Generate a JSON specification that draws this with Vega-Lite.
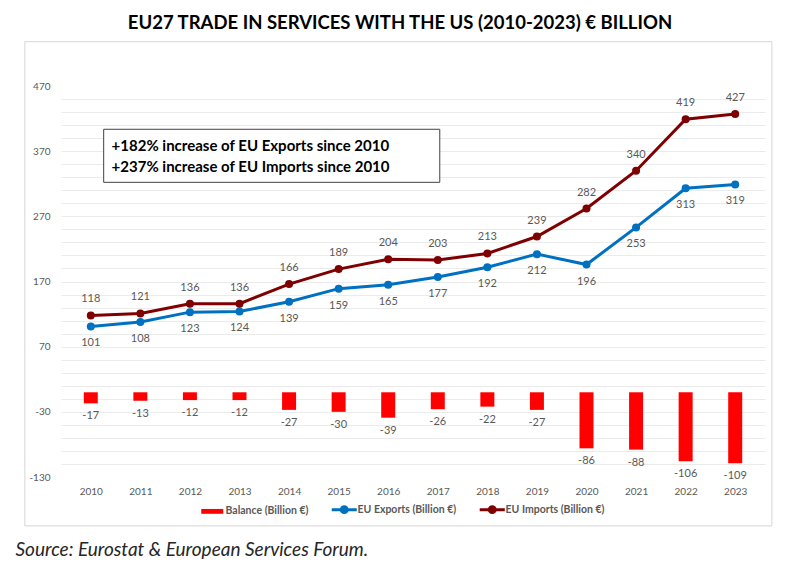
{
  "$schema": "https://vega.github.io/schema/vega-lite/v6.json",
  "width": 704,
  "height": 391,
  "autosize": "none",
  "padding": {"left": 61, "top": 86, "right": 23, "bottom": 91},
  "background": "white",
  "config": {
    "view": {"stroke": null},
    "font": "Lato",
    "text": {"font": "Lato"}
  },
  "title": {
    "text": "EU27 TRADE IN SERVICES WITH THE US (2010-2023) € BILLION",
    "font": "Lato",
    "fontSize": 18.5,
    "fontWeight": "bold",
    "color": "#000000",
    "anchor": "middle",
    "frame": "group",
    "dx": -13,
    "offset": 9
  },
  "resolve": {"axis": {"x": "independent", "y": "independent"}},
  "datasets": {
    "trade": [
      {"year": 2010, "series": "Balance (Billion €)", "value": -17},
      {"year": 2011, "series": "Balance (Billion €)", "value": -13},
      {"year": 2012, "series": "Balance (Billion €)", "value": -12},
      {"year": 2013, "series": "Balance (Billion €)", "value": -12},
      {"year": 2014, "series": "Balance (Billion €)", "value": -27},
      {"year": 2015, "series": "Balance (Billion €)", "value": -30},
      {"year": 2016, "series": "Balance (Billion €)", "value": -39},
      {"year": 2017, "series": "Balance (Billion €)", "value": -26},
      {"year": 2018, "series": "Balance (Billion €)", "value": -22},
      {"year": 2019, "series": "Balance (Billion €)", "value": -27},
      {"year": 2020, "series": "Balance (Billion €)", "value": -86},
      {"year": 2021, "series": "Balance (Billion €)", "value": -88},
      {"year": 2022, "series": "Balance (Billion €)", "value": -106},
      {"year": 2023, "series": "Balance (Billion €)", "value": -109},
      {"year": 2010, "series": "EU Exports (Billion €)", "value": 101},
      {"year": 2011, "series": "EU Exports (Billion €)", "value": 108},
      {"year": 2012, "series": "EU Exports (Billion €)", "value": 123},
      {"year": 2013, "series": "EU Exports (Billion €)", "value": 124},
      {"year": 2014, "series": "EU Exports (Billion €)", "value": 139},
      {"year": 2015, "series": "EU Exports (Billion €)", "value": 159},
      {"year": 2016, "series": "EU Exports (Billion €)", "value": 165},
      {"year": 2017, "series": "EU Exports (Billion €)", "value": 177},
      {"year": 2018, "series": "EU Exports (Billion €)", "value": 192},
      {"year": 2019, "series": "EU Exports (Billion €)", "value": 212},
      {"year": 2020, "series": "EU Exports (Billion €)", "value": 196},
      {"year": 2021, "series": "EU Exports (Billion €)", "value": 253},
      {"year": 2022, "series": "EU Exports (Billion €)", "value": 313},
      {"year": 2023, "series": "EU Exports (Billion €)", "value": 319},
      {"year": 2010, "series": "EU Imports (Billion €)", "value": 118},
      {"year": 2011, "series": "EU Imports (Billion €)", "value": 121},
      {"year": 2012, "series": "EU Imports (Billion €)", "value": 136},
      {"year": 2013, "series": "EU Imports (Billion €)", "value": 136},
      {"year": 2014, "series": "EU Imports (Billion €)", "value": 166},
      {"year": 2015, "series": "EU Imports (Billion €)", "value": 189},
      {"year": 2016, "series": "EU Imports (Billion €)", "value": 204},
      {"year": 2017, "series": "EU Imports (Billion €)", "value": 203},
      {"year": 2018, "series": "EU Imports (Billion €)", "value": 213},
      {"year": 2019, "series": "EU Imports (Billion €)", "value": 239},
      {"year": 2020, "series": "EU Imports (Billion €)", "value": 282},
      {"year": 2021, "series": "EU Imports (Billion €)", "value": 340},
      {"year": 2022, "series": "EU Imports (Billion €)", "value": 419},
      {"year": 2023, "series": "EU Imports (Billion €)", "value": 427}
    ],
    "notes": [
      {"note": "+182% increase of EU Exports since 2010", "line": 1},
      {"note": "+237% increase of EU Imports since 2010", "line": 2}
    ]
  },
  "layer": [
    {
      "data": {"name": "trade"},
      "transform": [{"filter": "datum.series == 'Balance (Billion €)'"}],
      "mark": {"type": "bar", "width": 14},
      "encoding": {
        "x": {
          "field": "year",
          "type": "quantitative",
          "scale": {"domain": [2009.5, 2023.5], "nice": false, "zero": false},
          "axis": {
            "values": [2010, 2011, 2012, 2013, 2014, 2015, 2016, 2017, 2018, 2019, 2020, 2021, 2022, 2023],
            "format": "d",
            "grid": false,
            "domain": false,
            "ticks": false,
            "labelFont": "Lato",
            "labelFontSize": 10,
            "labelColor": "#595959",
            "labelPadding": 9,
            "labelFlush": false,
            "title": "Source: Eurostat & European Services Forum.",
            "titleFont": "Lato",
            "titleFontSize": 19,
            "titleFontStyle": "italic",
            "titleFontWeight": "normal",
            "titleColor": "#262626",
            "titleAnchor": "start",
            "titleAlign": "left",
            "titleBaseline": "middle",
            "titleX": -46,
            "titleY": 72
          }
        },
        "y": {
          "field": "value",
          "type": "quantitative",
          "scale": {"domain": [-130, 470], "nice": false, "zero": false},
          "axis": {
            "values": [-130, -110, -90, -70, -50, -30, -10, 10, 30, 50, 70, 90, 110, 130, 150, 170, 190, 210, 230, 250, 270, 290, 310, 330, 350, 370, 390, 410, 430, 450, 470],
            "labelExpr": "(datum.value + 130) % 100 == 0 ? '' + datum.value : ''",
            "grid": true,
            "gridColor": {"condition": {"test": "datum.value == 470 || datum.value == -130", "value": "transparent"}, "value": "#EBEBEB"},
            "gridWidth": 1,
            "domain": false,
            "ticks": false,
            "labelFont": "Lato",
            "labelFontSize": 10,
            "labelColor": "#595959",
            "labelPadding": 11,
            "title": null
          }
        },
        "color": {
          "field": "series",
          "type": "nominal",
          "scale": {
            "domain": ["Balance (Billion €)", "EU Exports (Billion €)", "EU Imports (Billion €)"],
            "range": ["#FF0000", "#0070C0", "#7F0000"]
          },
          "legend": {
            "title": null,
            "orient": "none",
            "direction": "horizontal",
            "legendX": 146,
            "legendY": 418,
            "padding": 0,
            "symbolSize": 484,
            "labelOffset": 8,
            "columnPadding": 16,
            "labelFont": "Lato",
            "labelFontSize": 10.5,
            "labelFontWeight": "bold",
            "labelColor": "#595959",
            "labelLimit": 300,
            "encode": {
              "symbols": {
                "update": {
                  "shape": {"signal": "datum.value == 'Balance (Billion €)' ? 'M-1,-0.22H1V0.22H-1Z' : 'M-1.14,0H1.14M0.27,0A0.27,0.27 0 1,1 -0.27,0A0.27,0.27 0 1,1 0.27,0Z'"},
                  "fill": {"scale": "color", "field": "value"},
                  "stroke": {"scale": "color", "field": "value"},
                  "strokeWidth": {"signal": "datum.value == 'Balance (Billion €)' ? 0 : 3"},
                  "opacity": {"value": 1},
                  "fillOpacity": {"value": 1}
                }
              }
            }
          }
        }
      }
    },
    {
      "data": {"name": "trade"},
      "transform": [{"filter": "datum.series != 'Balance (Billion €)'"}],
      "mark": {"type": "line", "strokeWidth": 3, "point": {"filled": true, "size": 64, "opacity": 1}},
      "encoding": {
        "x": {"field": "year", "type": "quantitative", "axis": null},
        "y": {"field": "value", "type": "quantitative", "axis": null},
        "color": {"field": "series", "type": "nominal"}
      }
    },
    {
      "data": {"name": "trade"},
      "transform": [{"filter": "datum.series == 'EU Imports (Billion €)'"}],
      "mark": {"type": "text", "dy": -16, "fontSize": 11, "fill": "#595959"},
      "encoding": {
        "x": {"field": "year", "type": "quantitative", "axis": null},
        "y": {"field": "value", "type": "quantitative", "axis": null},
        "text": {"field": "value", "type": "nominal"}
      }
    },
    {
      "data": {"name": "trade"},
      "transform": [{"filter": "datum.series == 'EU Exports (Billion €)'"}],
      "mark": {"type": "text", "dy": 17, "fontSize": 11, "fill": "#595959"},
      "encoding": {
        "x": {"field": "year", "type": "quantitative", "axis": null},
        "y": {"field": "value", "type": "quantitative", "axis": null},
        "text": {"field": "value", "type": "nominal"}
      }
    },
    {
      "data": {"name": "trade"},
      "transform": [{"filter": "datum.series == 'Balance (Billion €)'"}],
      "mark": {"type": "text", "dy": 13, "fontSize": 11, "fill": "#595959"},
      "encoding": {
        "x": {"field": "year", "type": "quantitative", "axis": null},
        "y": {"field": "value", "type": "quantitative", "axis": null},
        "text": {"field": "value", "type": "nominal"}
      }
    },
    {
      "data": {"values": [{"box": 1}]},
      "mark": {"type": "rect", "fill": "white", "stroke": "#404040", "strokeWidth": 1},
      "encoding": {
        "x": {"datum": 2010.26, "type": "quantitative", "axis": null},
        "x2": {"datum": 2017.04},
        "y": {"datum": 403.6, "type": "quantitative", "axis": null},
        "y2": {"datum": 322.2}
      }
    },
    {
      "data": {"name": "notes"},
      "mark": {"type": "text", "align": "left", "baseline": "middle", "font": "Lato", "fontSize": 15, "fontWeight": "bold", "fill": "#000000"},
      "encoding": {
        "x": {"datum": 2010.42, "type": "quantitative", "axis": null},
        "y": {"datum": 378.5, "type": "quantitative", "axis": null},
        "yOffset": {"field": "line", "type": "quantitative", "scale": {"domain": [1, 2], "range": [0, 21]}},
        "text": {"field": "note"}
      }
    },
    {
      "data": {"values": [{"frame": 1}]},
      "mark": {"type": "rect", "filled": false, "stroke": "#D6D6D6", "strokeWidth": 1, "clip": false},
      "encoding": {
        "x": {"datum": 2008.67, "type": "quantitative", "axis": null},
        "x2": {"datum": 2023.74},
        "y": {"datum": 538, "type": "quantitative", "axis": null},
        "y2": {"datum": -205}
      }
    }
  ]
}
